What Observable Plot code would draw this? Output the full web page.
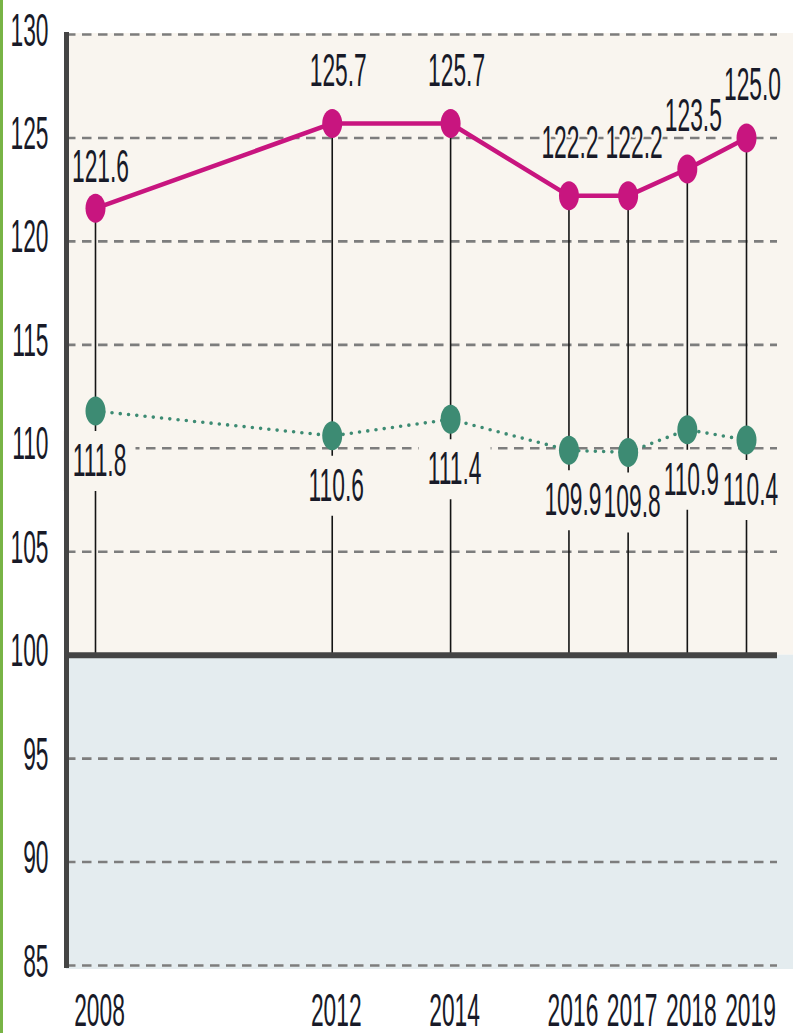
<!DOCTYPE html>
<html>
<head>
<meta charset="utf-8">
<script src="https://cdn.jsdelivr.net/npm/d3@7"></script>
<script src="https://cdn.jsdelivr.net/npm/@observablehq/plot@0.6"></script>
<style>
  html, body { margin: 0; padding: 0; background: #fff; }
  #wrap { position: relative; width: 793px; height: 1033px; overflow: hidden; }
  #wrap .edge { position: absolute; left: 0; top: 0; width: 3px; height: 100%; background: #78b446; z-index: 2; }
  svg { display: block; }
</style>
</head>
<body>
<div id="wrap"><div class="edge"></div></div>
<script>
// ---- data ----
const years = [2008, 2012, 2014, 2016, 2017, 2018, 2019];
const magentaValues = [121.6, 125.7, 125.7, 122.2, 122.2, 123.5, 125.0];
const greenValues = [111.8, 110.6, 111.4, 109.9, 109.8, 110.9, 110.4];
const yTicks = [85, 90, 95, 100, 105, 110, 115, 120, 125, 130];
const gridValues = yTicks.filter(v => v !== 100);
const baseline = 100;

const rows = years.map((year, i) => ({year, magenta: magentaValues[i], green: greenValues[i]}));

// ---- styles ----
const MAGENTA = "#c8157f";
const GREEN = "#3d8b73";
const BEIGE = "#f9f5ef";
const BLUE = "#e4ecef";
const INK = "#181a28";
const FONT = 47;
const SX = 0.485;
const fmt = d3.format(".1f");

// elliptical point symbol (taller than wide)
const ellipse = {
  draw(ctx, size) {
    const rx = Math.sqrt(size / Math.PI), ry = rx * 1.45, k = 0.5523;
    ctx.moveTo(rx, 0);
    ctx.bezierCurveTo(rx, ry * k, rx * k, ry, 0, ry);
    ctx.bezierCurveTo(-rx * k, ry, -rx, ry * k, -rx, 0);
    ctx.bezierCurveTo(-rx, -ry * k, -rx * k, -ry, 0, -ry);
    ctx.bezierCurveTo(rx * k, -ry, rx, -ry * k, rx, 0);
    ctx.closePath();
  }
};
// label backing box
const box = { draw(ctx) { ctx.rect(-36, -30, 72, 60); } };

const magentaLabel = (extra) => Plot.text(rows, {
  x: "year", y: "magenta", text: d => fmt(d.magenta),
  dx: 6, dy: -53, fontSize: FONT, fill: INK, stroke: BEIGE, strokeWidth: 6, paintOrder: "stroke",
  ...extra
});

const chart = Plot.plot({
  width: 793,
  height: 1033,
  marginLeft: 66,
  marginRight: 16,
  marginTop: 34,
  marginBottom: 68,
  style: { fontFamily: "Liberation Sans, Arial, sans-serif", background: "transparent" },
  x: { type: "linear", domain: [2008, 2019], range: [95, 746] },
  y: { domain: [85, 130] },
  marks: [
    // background bands
    Plot.rectY([baseline], { y1: baseline, y2: 130, fill: BEIGE, insetRight: -16, insetTop: -1 }),
    Plot.rectY([baseline], { y1: 85, y2: baseline, fill: BLUE, insetRight: -16, insetBottom: -4 }),
    // dashed grid
    Plot.ruleY(gridValues, { stroke: "#7d7d7d", strokeWidth: 2.6, strokeDasharray: "9.5,6.5" }),
    // stems
    Plot.ruleX(rows, { x: "year", y1: baseline, y2: "magenta", stroke: "#141414", strokeWidth: 1.6 }),
    // series lines
    Plot.line(rows, { x: "year", y: "green", stroke: GREEN, strokeWidth: 3.6, strokeDasharray: "0,8.3", strokeLinecap: "round" }),
    Plot.line(rows, { x: "year", y: "magenta", stroke: MAGENTA, strokeWidth: 4.5 }),
    // green label boxes
    Plot.dot(rows, { x: "year", y: "green", symbol: box, fill: BEIGE, r: 5, dx: 4, dy: 50 }),
    // baseline and y axis line
    Plot.ruleY([baseline], { stroke: "#444", strokeWidth: 6 }),
    Plot.frame({ anchor: "left", stroke: "#444", strokeWidth: 5 }),
    // points
    Plot.dot(rows, { x: "year", y: "magenta", symbol: ellipse, r: 10, fill: MAGENTA }),
    Plot.dot(rows, { x: "year", y: "green", symbol: ellipse, r: 10, fill: GREEN }),
    // value labels
    magentaLabel({ filter: (d, i) => i !== 0 && i !== 3 }),
    magentaLabel({ filter: (d, i) => i === 0, dx: 5, dy: -41 }),
    magentaLabel({ filter: (d, i) => i === 3, dx: 1 }),
    Plot.text(rows, { x: "year", y: "green", text: d => fmt(d.green), dx: 4, dy: 50, fontSize: FONT, fill: INK }),
    // axes
    Plot.axisY(yTicks, { tickSize: 0, tickPadding: 18, fontSize: FONT, dy: -4, fill: INK, label: null }),
    Plot.axisX(years, { tickSize: 0, tickPadding: 27, fontSize: FONT, dx: 4, fill: INK, label: null, tickFormat: d => String(d) })
  ]
});

// condense all text horizontally (narrow typeface look); positions live in each text's transform
chart.querySelectorAll("text").forEach(t => {
  const tr = t.getAttribute("transform") || "";
  t.setAttribute("transform", `${tr} scale(${SX},1)`.trim());
});

document.getElementById("wrap").appendChild(chart);
</script>
</body>
</html>
